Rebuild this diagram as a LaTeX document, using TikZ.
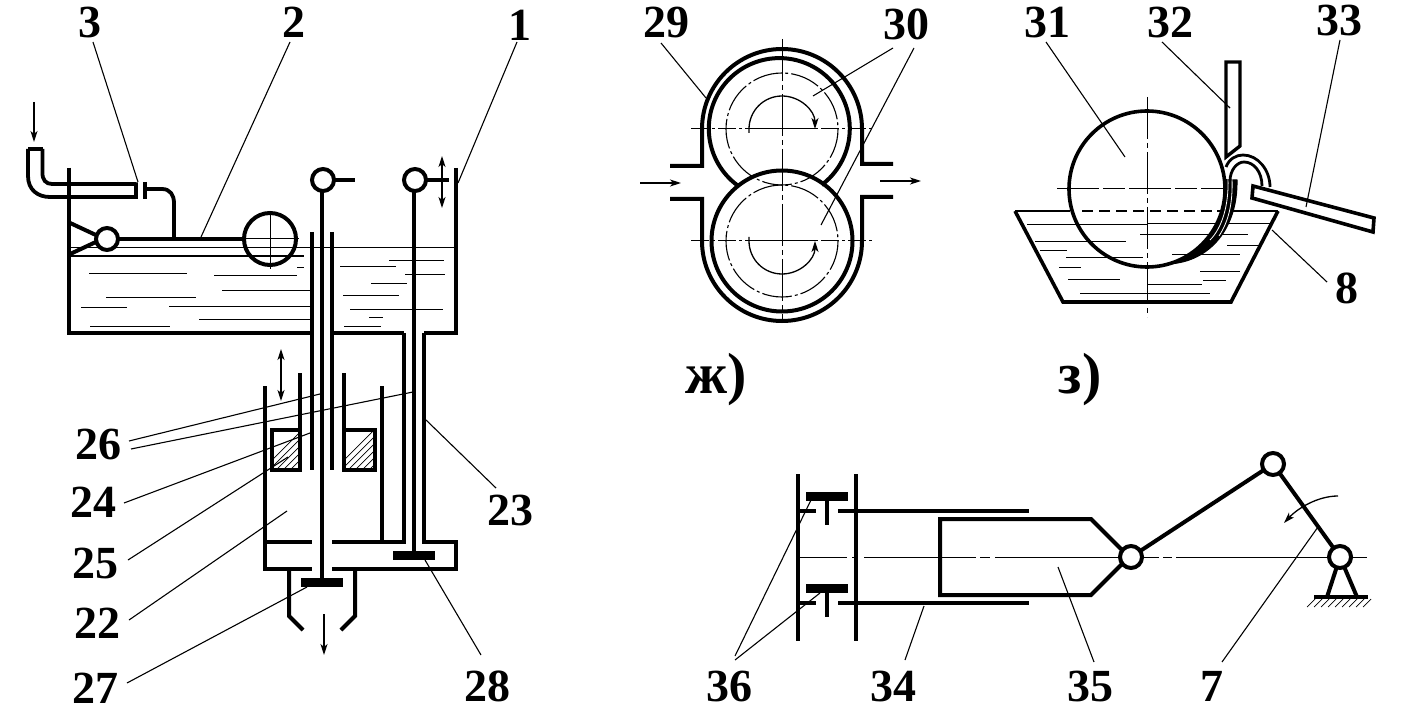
\documentclass[tikz,border=0pt]{standalone}
\usepackage{fontspec}
\setmainfont{Liberation Serif}
\usetikzlibrary{arrows.meta}
\tikzset{
  heavy/.style={line width=4pt,line cap=butt,line join=miter},
  medium/.style={line width=2.6pt},
  thinl/.style={line width=1pt},
  leader/.style={line width=1.1pt},
  lbl/.style={font=\fontsize{46}{50}\selectfont\bfseries,inner sep=0pt},
  sublbl/.style={font=\fontsize{58}{60}\selectfont\bfseries,inner sep=0pt},
  cl/.style={line width=1pt,dash pattern=on 42pt off 4pt on 5pt off 4pt},
  cld/.style={line width=1.1pt,dash pattern=on 30pt off 3pt on 3pt off 3pt},
  flow/.style={line width=1.3pt,-{Stealth[length=11pt,width=7pt,inset=3pt]}},
  flowboth/.style={line width=1.3pt,{Stealth[length=11pt,width=7pt,inset=3pt]}-{Stealth[length=11pt,width=7pt,inset=3pt]}},
  pin/.style={heavy,draw,fill=white}
}
\begin{document}
\begin{tikzpicture}[x=1pt,y=-1pt]
\useasboundingbox (0,0) rectangle (1403,722);
\fill[white] (0,0) rectangle (1403,722);

% ---------- left figure: water and thin lines
\draw[thinl] (68,248) -- (456,248);
\draw[thinl] (70,256) -- (304,256);
\foreach \a/\b/\c in {89/187/273,214/297/275,297/304/267,222/310/290,106/196/297,81/127/307,169/310/306,199/310/319,90/170/326,
 389/444/260,340/396/266,405/445/274,371/407/283,343/399/295,350/443/309,369/383/317,344/381/326}
  \draw[thinl] (\a,\c) -- (\b,\c);

% tank
\draw[heavy] (68.5,168) -- (68.5,333) -- (312,333);
\draw[heavy] (456,168) -- (456,333) -- (424,333);
\draw[heavy] (332,333) -- (404,333);
% tubes
\draw[heavy] (312,232) -- (312,470);
\draw[heavy] (332,232) -- (332,470);
\draw[heavy] (322,190) -- (322,580);
\draw[heavy] (414,190) -- (414,553);
\draw[heavy] (404,333) -- (404,541.5) -- (332,541.5);
\draw[heavy] (424,333) -- (424,541.5) -- (456,541.5) -- (456,569) -- (332,569);
\draw[heavy] (264.5,386) -- (264.5,569) -- (312,569);
\draw[heavy] (264.5,541.5) -- (312,541.5);
\draw[heavy] (300,373) -- (300,430);
\draw[heavy] (344,373) -- (344,430);
\draw[heavy] (382,386) -- (382,541.5);
% hatched coils
\begin{scope}
  \clip (272,430) rectangle (300,470);
  \foreach \k in {0,7,...,70} \draw[line width=.7pt] (262+\k,470) -- (302+\k,430);
\end{scope}
\begin{scope}
  \clip (344,430) rectangle (375,470);
  \foreach \k in {0,7,...,80} \draw[line width=.7pt] (334+\k,470) -- (374+\k,430);
\end{scope}
\draw[heavy] (272,430) rectangle (300,470);
\draw[heavy] (344,430) rectangle (375,470);
% plates and outlet
\fill (393,551) rectangle (435,560);
\fill (301,578) rectangle (343,587);
\draw[heavy] (289,569) -- (289,616) -- (303,630);
\draw[heavy] (355,569) -- (355,616) -- (341,630);
% arrows
\draw[flow] (324,614) -- (324,655);
\draw[flowboth] (281,349) -- (281,401);
\draw[flowboth] (442,156) -- (442,208);
\draw[flow] (34,102) -- (34,142);
% balls on rods
\draw[heavy] (335,180) -- (355,180);
\draw[heavy] (426,180) -- (449,180);
\draw[pin] (323,180) circle[radius=11];
\draw[pin] (415,180) circle[radius=11];
% filling pipe
\draw[heavy] (68.5,168) -- (68.5,200);
\draw[line width=3.8pt] (28,149) -- (43,149);
\draw[line width=3.8pt] (136,184) -- (52,184) .. controls (46,184) and (42,180) .. (42.5,172) -- (42.5,149);
\draw[line width=3.8pt] (28,149) -- (28,176) .. controls (28,190) and (38,197) .. (50,197) -- (136,197) -- (136,182.5);
\draw[line width=4pt] (145,182) -- (145,199);
\draw[line width=3.8pt] (145,189) -- (162,189) .. controls (170,189) and (174,195) .. (174,203) -- (174,238);
% lever and float
\draw[heavy] (118,239) -- (245,239);
\draw[heavy] (68,222) -- (98,236);
\draw[heavy] (68,255) -- (98,241);
\draw[pin] (107,239) circle[radius=11];
\draw[heavy] (270,239) circle[radius=26];
\draw[thinl] (270,211) -- (270,269);
\draw[thinl] (245,239) -- (299,239);

% ---------- figure zh
\draw[heavy] (670,166) -- (702,166) -- (702,129) arc[start angle=180,end angle=0,radius=80pt] -- (862,164) -- (893,164);
\draw[heavy] (670,199) -- (702,199) -- (702,241) arc[start angle=180,end angle=360,radius=80pt] -- (862,197) -- (893,197);
\draw[cld] (782,129) circle[radius=56];
\draw[cld] (782,241) circle[radius=56];
\draw[heavy] (737.0,185) arc[start angle=233.13,end angle=-53.13,radius=70.5pt];
\draw[heavy] (782,241) circle[radius=70.5];
\foreach \y in {129,241} {
  \draw[thinl,dash pattern=on 18pt off 3pt on 3pt off 3pt] (691,\y) -- (749,\y);
  \draw[thinl] (749,\y) -- (815,\y);
  \draw[thinl,dash pattern=on 3pt off 3pt on 18pt off 3pt] (815,\y) -- (872,\y);
}
\draw[cl] (782,39) -- (782,320);
\draw[flow] (749,133) -- (749,129) arc[start angle=180,end angle=0,radius=33pt];
\draw[flow] (749,237) -- (749,241) arc[start angle=180,end angle=360,radius=33pt];
\draw[flow] (640,183) -- (681,183);
\draw[flow] (880,181) -- (921,181);

% ---------- figure z
\draw[line width=3.6pt] (1015,211) -- (1063,302) -- (1231,302) -- (1278,211);
\foreach \a/\b/\c in {1027/1147/225,1148/1273/224,1035/1126/242,1140/1248/235,1227/1262/246,1040/1067/251,1066/1143/257,1172/1240/255,1059/1081/267,1200/1240/271,1068/1120/279,1203/1226/280,1148/1202/284,1080/1210/293}
  \draw[thinl] (\a,\c) -- (\b,\c);
\draw[line width=2.8pt] (1015,211) -- (1070,211);
\draw[line width=2.8pt] (1217,211) -- (1278,211);
\draw[line width=2.8pt,dash pattern=on 11pt off 6pt] (1082,211) -- (1217,211);
\draw[line width=3.6pt] (1147,189) circle[radius=78];
\draw[cl] (1147,97) -- (1147,317);
\draw[thinl,dash pattern=on 42pt off 4pt on 22pt off 4pt] (1057,189) -- (1224,189);
% film
\draw[line width=1pt,fill=black] (1224.4,179.5) arc[start angle=7,end angle=-74,radius=78pt] .. controls (1210,262) and (1238,228) .. (1237,180) -- cycle;
\draw[white,line width=.8pt] (1228,178) .. controls (1229,205) and (1222,228) .. (1210,240);
\draw[white,line width=.8pt] (1232,178) .. controls (1233,205) and (1228,222) .. (1219,236);
\draw[line width=2.8pt] (1226,167) .. controls (1229,159) and (1236,155) .. (1243,155) .. controls (1258,155) and (1270,170) .. (1270,187);
\draw[line width=2.8pt] (1230,181) .. controls (1230,170) and (1237,162) .. (1244,162) .. controls (1254,162) and (1262,172) .. (1262,186);
% scraper and trough
\draw[line width=3.4pt,fill=white] (1226,62) -- (1240,62) -- (1240,146) -- (1226,157) -- cycle;
\draw[line width=3.6pt,fill=white] (1253,186) -- (1374,218) -- (1373,232) -- (1252,198) -- cycle;

% ---------- lower figure
\foreach \a/\b in {798/847,852/858,864/976,980/990,995/1159,1163/1172,1176/1367}
  \draw[thinl] (\a,557) -- (\b,557);
\draw[heavy] (798,474) -- (798,641);
\draw[heavy] (856,474) -- (856,641);
\draw[heavy] (798,511) -- (816,511);
\draw[heavy] (838,511) -- (1029,511);
\draw[heavy] (798,603) -- (816,603);
\draw[heavy] (838,603) -- (1029,603);
\fill (806,492) rectangle (848,501);
\fill (806,584) rectangle (848,593);
\draw[heavy] (827,501) -- (827,525);
\draw[heavy] (827,593) -- (827,617);
\draw[heavy] (1122,550) -- (1091,519) -- (940,519) -- (940,595) -- (1091,595) -- (1122,564);
\draw[heavy] (1131,557) -- (1273,464);
\draw[heavy] (1273,464) -- (1340,557);
\draw[heavy] (1340,557) -- (1327,597);
\draw[heavy] (1340,557) -- (1357,597);
\draw[heavy] (1314,597) -- (1368,597);
\foreach \k in {0,7,...,56} \draw[line width=.7pt] (1307+\k,607) -- (1315+\k,599);
\draw[pin] (1131,557) circle[radius=11];
\draw[pin] (1273,464) circle[radius=11];
\draw[pin] (1340,557) circle[radius=11];
\draw[flow] (1338,496) .. controls (1318,496) and (1298,508) .. (1284,523);

% ---------- labels
\node[lbl] (n3) at (90,22) {3};
\node[lbl] (n2) at (294,22) {2};
\node[lbl] (n1) at (520,25) {1};
\node[lbl] (n29) at (666,22) {29};
\node[lbl] (n30) at (906,24) {30};
\node[lbl] (n31) at (1047,22) {31};
\node[lbl] (n32) at (1170,22) {32};
\node[lbl] (n33) at (1339,20) {33};
\node[lbl] (n8) at (1347,288) {8};
\node[lbl] (n26) at (98,444) {26};
\node[lbl] (n24) at (93,502) {24};
\node[lbl] (n25) at (95,563) {25};
\node[lbl] (n22) at (97,623) {22};
\node[lbl] (n27) at (95,688) {27};
\node[lbl] (n23) at (510,510) {23};
\node[lbl] (n28) at (487,686) {28};
\node[lbl] (n36) at (729,686) {36};
\node[lbl] (n34) at (893,686) {34};
\node[lbl] (n35) at (1090,686) {35};
\node[lbl] (n7) at (1212,686) {7};
\node[sublbl] (zh) at (716,380) {ж)};
\node[sublbl] (ze) at (1080,380) {з)};

% ---------- leader lines
\path (93,42) coordinate (s3) (138,182) coordinate (t3)
      (290,42) coordinate (s2) (201,237) coordinate (t2)
      (517,42) coordinate (s1) (458,183) coordinate (t1)
      (661,43) coordinate (s29) (706,98) coordinate (t29)
      (893,48) coordinate (s30a) (813,96) coordinate (t30a)
      (914,48) coordinate (s30b) (821,225) coordinate (t30b)
      (1046,42) coordinate (s31) (1125,157) coordinate (t31)
      (1162,42) coordinate (s32) (1230,108) coordinate (t32)
      (1340,40) coordinate (s33) (1306,207) coordinate (t33)
      (1327,282) coordinate (s8) (1272,230) coordinate (t8)
      (129,441) coordinate (s26a) (320,394) coordinate (t26a)
      (131,449) coordinate (s26b) (413,392) coordinate (t26b)
      (124,503) coordinate (s24) (310,433) coordinate (t24)
      (128,560) coordinate (s25) (288,457) coordinate (t25)
      (129,620) coordinate (s22) (287,511) coordinate (t22)
      (127,683) coordinate (s27) (307,587) coordinate (t27)
      (496,488) coordinate (s23) (426,420) coordinate (t23)
      (481,655) coordinate (s28) (425,560) coordinate (t28)
      (735,656) coordinate (s36a) (811,500) coordinate (t36a)
      (735,660) coordinate (s36b) (820,593) coordinate (t36b)
      (905,660) coordinate (s34) (924,606) coordinate (t34)
      (1094,662) coordinate (s35) (1058,567) coordinate (t35)
      (1222,662) coordinate (s7) (1318,527) coordinate (t7);
\foreach \k in {3,2,1,29,30a,30b,31,32,33,8,26a,26b,24,25,22,27,23,28,36a,36b,34,35,7}
  \draw[leader] (s\k) -- (t\k);
\end{tikzpicture}
\end{document}
